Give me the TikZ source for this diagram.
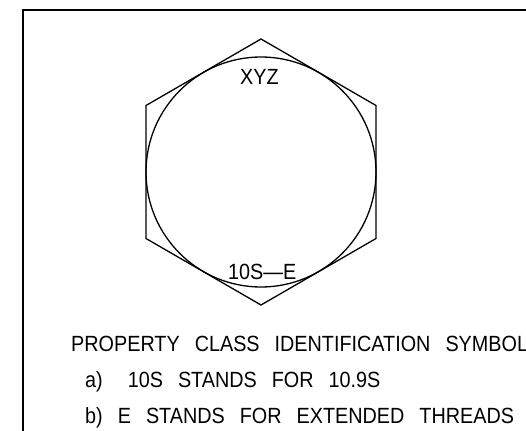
\documentclass[tikz,border=0pt]{standalone}
\usepackage{fontspec}
\setmainfont{Liberation Sans}
\newfontfamily\cadfont[FakeStretch=0.9]{Liberation Sans}
\newcommand{\widewords}{\spaceskip=15pt plus 0pt\relax}
\begin{document}
\begin{tikzpicture}[x=1pt,y=-1pt,
  shape line/.style={draw=black,line width=1.3pt},
  frame line/.style={draw=black,line width=1.6pt},
  lbl/.style={inner sep=0pt,anchor=base west,font=\fontsize{22}{22}\cadfont}]
\useasboundingbox (0,0) rectangle (526,430);
\fill[white] (0,0) rectangle (526,430);
\begin{scope}
\clip (0,0) rectangle (526,430);
\draw[frame line] (23,435) -- (23,10) -- (530,10);
\draw[shape line] (261,39) -- (376,105.5) -- (376,238.5) -- (261,305) -- (146,238.5) -- (146,105.5) -- cycle;
\draw[shape line] (261,172) circle (115);
\node[lbl] (xyz) at (240,85) {XYZ};
\node[lbl] (cls) at (228,279) {10S—E};
\node[lbl] (t1) at (71,351) {\widewords PROPERTY CLASS IDENTIFICATION SYMBOL};
\node[lbl] (t2) at (85,387) {\widewords a)\hspace{25pt}10S STANDS FOR 10.9S};
\node[lbl] (t3) at (85,423) {\widewords b) E STANDS FOR EXTENDED THREADS};
\end{scope}
\end{tikzpicture}
\end{document}
